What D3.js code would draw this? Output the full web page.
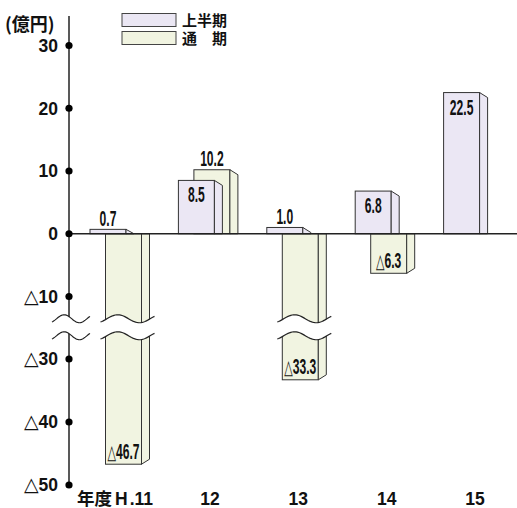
<!DOCTYPE html>
<html>
<head>
<meta charset="utf-8">
<script src="https://cdn.jsdelivr.net/npm/d3@7"></script>
<style>
  html, body { margin: 0; padding: 0; background: #fff; }
  svg { display: block; }
</style>
</head>
<body>
<svg id="chart" width="517" height="508"></svg>
<script>
// 年度別 損益（億円）
const categories = ["H.11", "12", "13", "14", "15"];
const firstHalf = [0.7, 8.5, 1.0, 6.8, 22.5];      // 上半期
const fullYear  = [-46.7, 10.2, -33.3, -6.3, null]; // 通期
const yTicks = [30, 20, 10, 0, -10, -30, -40, -50];
const seriesNames = ["上半期", "通\u3000期"];

const colors = { half: "#ebe7f4", full: "#f1f4e1", stroke: "#333" };
const latin = "'Liberation Sans', Arial, Helvetica, sans-serif";
const cjk = "'Noto Sans CJK JP', 'Noto Sans', sans-serif";

const svg = d3.select("#chart");

// Broken value axis: the span between -10 and -30 is compressed to one step
const y = d3.scaleLinear()
  .domain([-50, -30, -10, 30])
  .range([485, 359, 296.5, 45.5]);

const x = d3.scaleBand()
  .domain(categories)
  .range([74, 516])
  .paddingInner(0)
  .paddingOuter(0);

const axisX = 69;
const barW = 36;      // front face width
const depth = 8;      // side face width
const shrink = 5;     // side face recedes toward the zero line
const seriesOffset = 15.5;
const y0 = y(0);

function drawBar(g, left, v, fill) {
  const yv = y(v);
  g.append("rect")
    .attr("x", left).attr("y", Math.min(yv, y0))
    .attr("width", barW).attr("height", Math.abs(yv - y0))
    .attr("fill", fill).attr("stroke", colors.stroke).attr("stroke-width", 1);
  const xr = left + barW;
  let pts;
  if (v >= 0) {
    const s = Math.min(shrink, y0 - yv);
    pts = [[xr, yv], [xr + depth, yv + s], [xr + depth, y0], [xr, y0]];
  } else {
    const s = Math.min(shrink, yv - y0);
    pts = [[xr, y0], [xr + depth, y0], [xr + depth, yv - s], [xr, yv]];
  }
  g.append("path")
    .attr("d", d3.line()(pts) + "Z")
    .attr("fill", fill).attr("stroke", colors.stroke).attr("stroke-width", 1)
    .attr("stroke-linejoin", "miter");
}

// Condensed value label
function valueLabel(g, cx, baseline, v) {
  const t = g.append("text")
    .attr("transform", `translate(${cx},${baseline}) scale(0.55,1)`)
    .attr("text-anchor", "middle")
    .attr("font-family", latin)
    .attr("font-size", 22)
    .attr("font-weight", "bold")
    .attr("fill", "#111");
  if (v < 0) {
    t.append("tspan").attr("font-weight", "normal").attr("font-family", "'DejaVu Sans', sans-serif")
      .attr("font-size", 20).text("△");
    t.append("tspan").text(Math.abs(v).toFixed(1));
  } else {
    t.text(v.toFixed(1));
  }
}

const bars = svg.append("g");
const labels = svg.append("g");

// 通期 bars sit behind the 上半期 bars
categories.forEach((c, i) => {
  const v = fullYear[i];
  if (v == null) return;
  const left = x(c) + 16 + seriesOffset;
  drawBar(bars, left, v, colors.full);
  const cx = left + barW / 2;
  if (v >= 0) valueLabel(labels, cx, y(v) - 4, v);
  else valueLabel(labels, cx, y(v) - 5.5, v);
});

categories.forEach((c, i) => {
  const v = firstHalf[i];
  const left = x(c) + 16;
  drawBar(bars, left, v, colors.half);
  const cx = left + barW / 2;
  const h = Math.abs(y(v) - y0);
  if (h > 28) valueLabel(labels, cx, y(v) + 22, v);
  else valueLabel(labels, cx, y(v) - 3.5, v);
});

svg.node().appendChild(labels.node());

// Zero line
svg.append("line")
  .attr("x1", axisX).attr("x2", 517)
  .attr("y1", y0).attr("y2", y0)
  .attr("stroke", "#222").attr("stroke-width", 1.5);

// Vertical axis
svg.append("line")
  .attr("x1", axisX).attr("x2", axisX)
  .attr("y1", 16).attr("y2", y(-50))
  .attr("stroke", "#222").attr("stroke-width", 1.5);

svg.append("g").selectAll("circle")
  .data(yTicks).join("circle")
  .attr("cx", axisX).attr("cy", d => y(d)).attr("r", 3.6).attr("fill", "#000");

const tickG = svg.append("g");
yTicks.forEach(d => {
  const t = tickG.append("text")
    .attr("x", 58).attr("y", y(d)).attr("dy", "0.36em")
    .attr("text-anchor", "end")
    .attr("font-family", latin).attr("font-size", 17.5).attr("font-weight", "bold")
    .attr("fill", "#111");
  if (d < 0) {
    t.append("tspan").attr("font-family", "'DejaVu Sans', sans-serif").attr("font-weight", "normal")
      .attr("font-size", 19).text("△");
    t.append("tspan").text(Math.abs(d));
  } else {
    t.text(d);
  }
});

// Unit label
svg.append("text")
  .attr("x", 5).attr("y", 31)
  .attr("font-family", cjk).attr("font-size", 18).attr("font-weight", "bold")
  .attr("fill", "#111")
  .text("(億円)");

// Category labels
categories.forEach((c, i) => {
  const t = svg.append("text")
    .attr("y", 504.5)
    .attr("font-family", latin).attr("font-size", 17.5).attr("font-weight", "bold")
    .attr("fill", "#111");
  if (i === 0) {
    t.attr("x", 77).attr("text-anchor", "start");
    t.append("tspan").attr("font-family", cjk).attr("font-size", 17.5).text("年度");
    t.append("tspan").attr("dx", 3).text("H");
    t.append("tspan").attr("dx", 2).text(c.slice(1));
  } else {
    t.attr("x", x(c) + 47.5).attr("text-anchor", "middle").text(c);
  }
});

// Axis break marks: white gap bounded by two wavy lines
function wave(x0, x1, yc) {
  const amp = 4, p0 = -0.3 * Math.PI, p1 = 2.2 * Math.PI;
  const n = 40, pts = [];
  for (let k = 0; k <= n; k++) {
    const t = k / n;
    pts.push([x0 + (x1 - x0) * t, yc - amp * Math.sin(p0 + (p1 - p0) * t)]);
  }
  return pts;
}
function breakMark(x0, x1) {
  const yMid = (y(-10) + y(-30)) / 2;
  const upper = wave(x0, x1, yMid - 9);
  const lower = wave(x0, x1, yMid + 8);
  const g = svg.append("g");
  g.append("path")
    .attr("d", d3.line()(upper.concat(lower.slice().reverse())) + "Z")
    .attr("fill", "#fff").attr("stroke", "none");
  [upper, lower].forEach(p => g.append("path")
    .attr("d", d3.line()(p)).attr("fill", "none")
    .attr("stroke", "#222").attr("stroke-width", 1.2));
}
breakMark(52, 90);
categories.forEach((c, i) => {
  const v = fullYear[i];
  if (v != null && v < -20) {
    const left = x(c) + 16 + seriesOffset;
    breakMark(left - 5, left + barW + depth + 5);
  }
});

// Legend
const legend = svg.append("g");
seriesNames.forEach((name, i) => {
  const ly = 13.5 + i * 18;
  legend.append("rect")
    .attr("x", 122).attr("y", ly).attr("width", 54).attr("height", 13)
    .attr("fill", i === 0 ? colors.half : colors.full)
    .attr("stroke", "#444").attr("stroke-width", 1);
  legend.append("text")
    .attr("x", 182).attr("y", ly + 12)
    .attr("font-family", cjk).attr("font-size", 15).attr("font-weight", "bold")
    .attr("fill", "#111")
    .text(name);
});
</script>
</body>
</html>
